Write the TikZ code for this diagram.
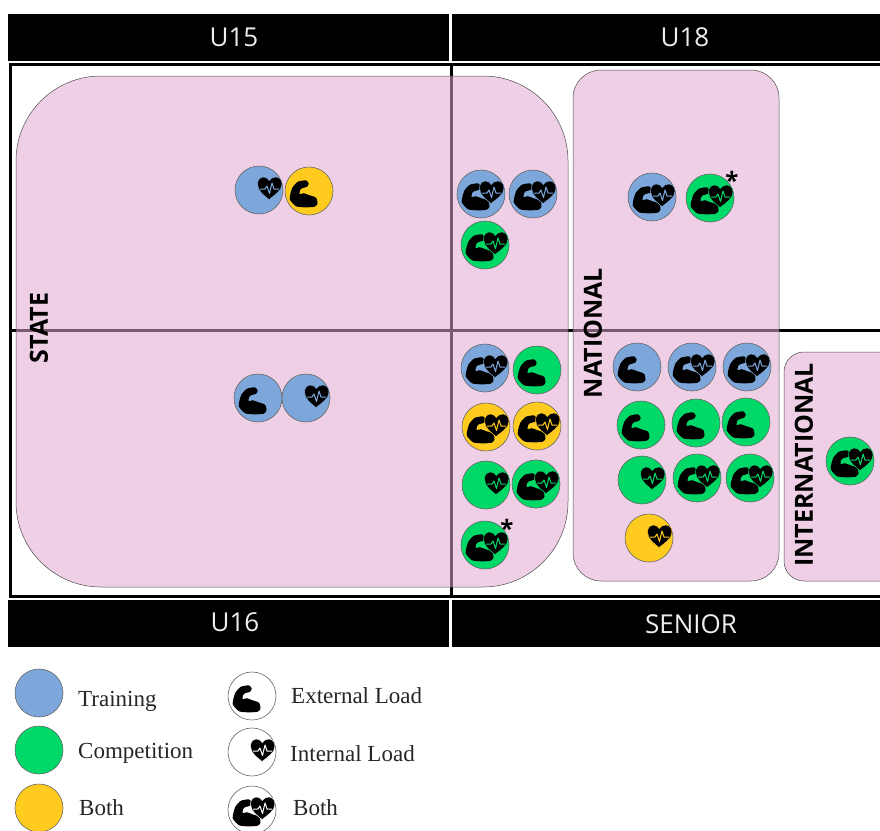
\documentclass[tikz,border=0pt]{standalone}
\usepackage{fontspec}
\setmainfont{Liberation Serif}
\newfontfamily\hdfont{Open Sans}
\definecolor{cblue}{HTML}{7DA7DB}
\definecolor{cgreen}{HTML}{00D968}
\definecolor{cyellow}{HTML}{FFCB1F}
\definecolor{cpink}{HTML}{E2A7CF}
\newcommand\armicon{\fill[black] plot[smooth cycle,tension=0.4] coordinates {(-7.3,-10.2) (-3,-10.7) (-0.3,-7.5) (-2,-4.2) (-7,-2.8) (-9,-0.8) (-9.3,3.2) (-5.3,2.2) (0.3,4.2) (7,6.7) (8.5,12.7) (5.3,15.8) (-4,16.3) (-13,15.2) (-19.3,8) (-16.8,-3) (-11.6,-9)};}
\newcommand\hearticon[1]{\filldraw[fill=black,draw=#1,line width=0.5pt] (10,9.5) .. controls (5,5.5) and (-1.5,1) .. (-1.5,-6) .. controls (-1.5,-10.5) and (1.5,-13) .. (4.5,-13) .. controls (7,-13) and (9,-11.5) .. (10.3,-9.5) .. controls (11.5,-11.5) and (14,-13) .. (16.5,-13) .. controls (20,-13) and (23,-10.5) .. (23,-6) .. controls (23,1) and (15,5.5) .. (10,9.5) -- cycle; \draw[#1,line width=1pt,line join=round] (1,-1) -- (6,-1) -- (8,-4) -- (10.5,3.5) -- (13,-7) -- (15,-1) -- (20,-1);}
\newcommand\disc[4]{\node[disc style,fill=#3] (#1) at (#2) {};\begin{scope}[shift={(#1.center)}]#4\end{scope}}
\tikzset{
  x=1pt,y=-1pt,
  disc style/.style={circle,draw=black!60,line width=0.6pt,minimum size=48pt,inner sep=0pt},
  hdbar/.style={fill=black,draw=none,minimum height=46.5pt,inner sep=0pt},
  hdtext/.style={text=white!93!black,font=\hdfont\fontsize{26}{26}\selectfont,inner sep=0pt},
  zone/.style={draw=black!70,line width=0.5pt,fill=cpink,fill opacity=0.54},
  lvl/.style={font=\hdfont\bfseries\fontsize{25}{25}\selectfont,rotate=90,inner sep=0pt},
  leg/.style={font=\fontsize{23}{23}\selectfont,anchor=west,inner sep=0pt,text=black!85},
  asterisk/.style={font=\hdfont\bfseries\fontsize{24}{24}\selectfont,text=black,inner sep=0pt}
}
\begin{document}
\begin{tikzpicture}
\useasboundingbox (0,0) rectangle (880,830);
\node[hdbar,minimum width=441pt] (u15) at (228.5,37.5) {};
\node[hdtext] (u15t) at (234,37) {U15};
\node[hdbar,minimum width=428pt] (u18) at (666,37.5) {};
\node[hdtext] (u18t) at (685,37) {U18};
\node[hdbar,minimum width=441pt] (u16) at (228.5,623.5) {};
\node[hdtext] (u16t) at (235,622) {U16};
\node[hdbar,minimum width=428pt] (senior) at (666,623.5) {};
\node[hdtext] (seniort) at (691,624) {SENIOR};
\draw[black,line width=3pt] (880,64.5) -- (10,64.5) -- (10,596) -- (880,596);
\draw[black,line width=3pt] (451,64.5) -- (451,596);
\draw[black,line width=3pt] (10,330) -- (880,330);
\draw[zone,rounded corners=85pt] (16,76) rectangle (568,587);
\draw[zone,rounded corners=28pt] (573,70) rectangle (779,581);
\draw[zone,rounded corners=20pt] (784,352) rectangle (900,581);
\node[lvl] (state) at (39,328) {STATE};
\node[lvl] (national) at (593,333) {NATIONAL};
\node[lvl] (international) at (804,465) {INTERNATIONAL};
\disc{a1}{259,190}{cblue}{\hearticon{cblue}}
\disc{a2}{309,191}{cyellow}{\armicon}
\disc{b1}{481,194}{cblue}{\armicon\hearticon{cblue}}
\disc{b2}{533,194}{cblue}{\armicon\hearticon{cblue}}
\disc{b3}{485,245}{cgreen}{\armicon\hearticon{cgreen}}
\disc{c1}{652,197}{cblue}{\armicon\hearticon{cblue}}
\disc{c2}{710,198}{cgreen}{\armicon\hearticon{cgreen}}
\node[asterisk] (s1) at (732,180) {*};
\disc{d1}{258,398}{cblue}{\armicon}
\disc{d2}{306,398}{cblue}{\hearticon{cblue}}
\disc{e1}{485,368}{cblue}{\armicon\hearticon{cblue}}
\disc{e2}{537,370}{cgreen}{\armicon}
\disc{e3}{486,427}{cyellow}{\armicon\hearticon{cyellow}}
\disc{e4}{537,426}{cyellow}{\armicon\hearticon{cyellow}}
\disc{e5}{486,485}{cgreen}{\hearticon{cgreen}}
\disc{e6}{536,484}{cgreen}{\armicon\hearticon{cgreen}}
\disc{e7}{485,545}{cgreen}{\armicon\hearticon{cgreen}}
\node[asterisk] (s2) at (507,528) {*};
\disc{f1}{637,367}{cblue}{\armicon}
\disc{f2}{692,367}{cblue}{\armicon\hearticon{cblue}}
\disc{f3}{747,367}{cblue}{\armicon\hearticon{cblue}}
\disc{f4}{641,425}{cgreen}{\armicon}
\disc{f5}{696,423}{cgreen}{\armicon}
\disc{f6}{746,422}{cgreen}{\armicon}
\disc{f7}{642,480}{cgreen}{\hearticon{cgreen}}
\disc{f8}{697,478}{cgreen}{\armicon\hearticon{cgreen}}
\disc{f9}{750,478}{cgreen}{\armicon\hearticon{cgreen}}
\disc{f10}{649,538}{cyellow}{\hearticon{cyellow}}
\disc{g1}{850,461}{cgreen}{\armicon\hearticon{cgreen}}
\disc{l1}{39,693}{cblue}{}
\disc{l2}{39,750}{cgreen}{}
\disc{l3}{39,808}{cyellow}{}
\disc{l4}{252,696}{white}{\armicon}
\disc{l5}{252,752}{white}{\hearticon{white}}
\disc{l6}{252,810}{white}{\armicon\hearticon{white}}
\node[leg] (t1) at (78,701) {Training};
\node[leg] (t2) at (78,753) {Competition};
\node[leg] (t3) at (79,808) {Both};
\node[leg] (t4) at (291,696) {External Load};
\node[leg] (t5) at (290,754) {Internal Load};
\node[leg] (t6) at (293,808) {Both};
\end{tikzpicture}
\end{document}
